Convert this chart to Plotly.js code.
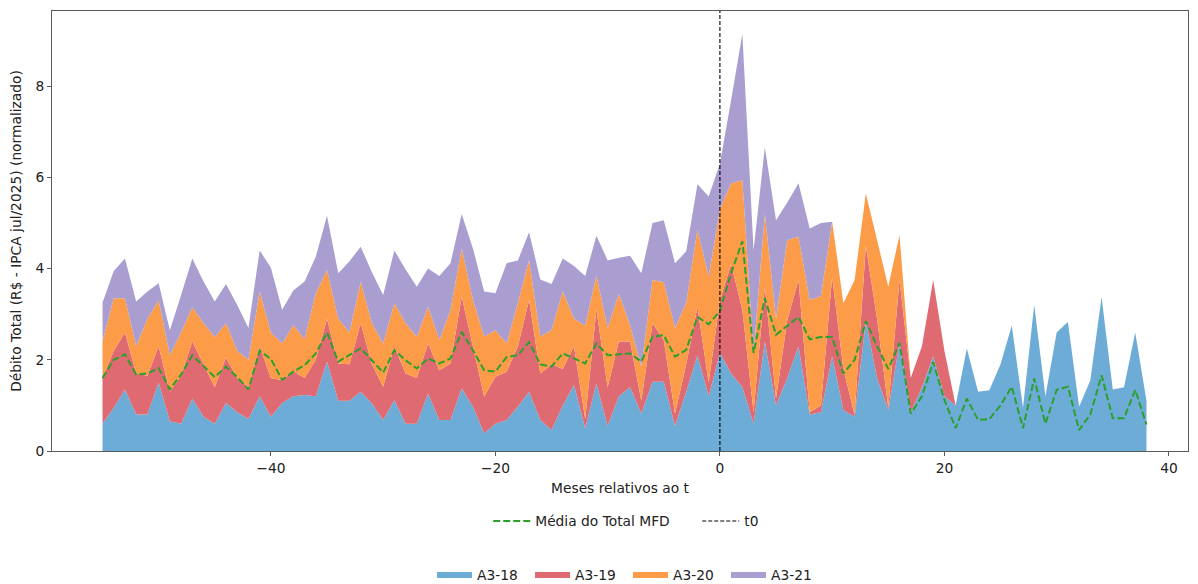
<!DOCTYPE html>
<html>
<head>
<meta charset="utf-8">
<script src="https://cdn.plot.ly/plotly-3.0.1.min.js"></script>
<style>
  html, body { margin: 0; padding: 0; background: #ffffff; }
  #chart { width: 1198px; height: 584px; }
</style>
</head>
<body>
<div id="chart"></div>
<script>
// Months relative to t0 covered by the panel
const firstMonth = -55;
const lastMonth = 38;
const t0 = 0;

// Normalised total debt per cohort (values start at month -55; cohorts end early)
const A3_18 = [0.60, 0.95, 1.35, 0.80, 0.80, 1.50, 0.65, 0.60, 1.15, 0.75,
  0.60, 1.05, 0.85, 0.70, 1.20, 0.75, 1.05, 1.20, 1.23, 1.20,
  1.96, 1.10, 1.10, 1.30, 1.04, 0.68, 1.12, 0.60, 0.60, 1.26,
  0.68, 0.68, 1.37, 0.97, 0.39, 0.60, 0.68, 0.97, 1.30, 0.68,
  0.46, 1.00, 1.45, 0.50, 1.48, 0.55, 1.20, 1.40, 0.82, 1.52,
  1.52, 0.55, 1.30, 2.10, 1.20, 2.15, 1.70, 1.40, 0.60, 2.40,
  1.00, 1.60, 2.30, 0.80, 0.85, 2.07, 0.90, 0.75, 2.85, 1.60,
  0.90, 2.37, 0.85, 1.40, 2.07, 1.20, 1.00, 2.25, 1.30, 1.33,
  1.90, 2.75, 0.95, 3.20, 1.20, 2.60, 2.83, 0.97, 1.55, 3.38,
  1.35, 1.40, 2.60, 1.10];

const A3_19 = [1.00, 1.25, 1.25, 0.90, 0.85, 0.80, 0.65, 1.05, 1.25, 1.15,
  0.80, 1.00, 0.75, 0.70, 1.10, 0.85, 0.50, 0.55, 0.37, 0.80,
  0.94, 0.82, 0.80, 1.50, 0.86, 0.73, 1.17, 1.10, 1.00, 1.10,
  1.09, 1.24, 2.02, 1.32, 0.80, 1.03, 1.06, 1.32, 2.01, 1.02,
  1.44, 0.80, 0.85, 0.20, 1.62, 0.85, 1.20, 1.00, 0.28, 1.28,
  0.91, 0.27, 0.60, 1.06, 0.30, 1.15, 2.40, 1.70, 0.25, 1.20,
  0.15, 1.27, 1.45, 0.05, 0.15, 1.75, 0.90, 0.05, 1.65, 1.30,
  0.05, 1.38, 0.75, 0.90, 1.68, 1.00];

const A3_20 = [0.80, 1.15, 0.75, 0.60, 1.25, 1.00, 0.80, 0.95, 0.75, 0.90,
  1.10, 0.75, 0.60, 0.60, 1.20, 1.00, 0.81, 1.01, 0.85, 1.46,
  1.07, 0.98, 0.70, 0.91, 0.90, 0.95, 0.95, 1.10, 0.90, 0.81,
  0.66, 1.17, 1.05, 1.02, 1.32, 1.02, 0.62, 0.95, 0.88, 0.81,
  0.75, 1.70, 0.60, 2.05, 0.75, 1.30, 1.05, 0.35, 0.75, 0.95,
  1.27, 1.88, 1.35, 1.69, 2.32, 2.00, 1.77, 2.84, 1.29, 1.60,
  1.75, 1.76, 0.95, 2.46, 2.40, 1.21, 1.44, 2.95, 1.15, 1.73,
  2.65, 0.99];

const A3_21 = [0.85, 0.60, 0.87, 0.98, 0.60, 0.38, 0.55, 0.82, 1.07, 0.92,
  0.78, 0.86, 1.00, 0.70, 0.90, 1.42, 0.74, 0.76, 1.27, 0.80,
  1.19, 1.00, 1.56, 0.77, 1.12, 1.06, 1.16, 1.18, 1.10, 0.83,
  1.41, 1.03, 0.76, 1.13, 0.99, 0.81, 1.76, 0.94, 0.61, 1.25,
  1.01, 0.72, 1.16, 1.09, 0.87, 1.48, 0.79, 1.53, 2.05, 1.25,
  1.36, 1.42, 1.13, 1.00, 1.76, 1.00, 1.83, 3.21, 2.26, 1.46,
  2.16, 0.82, 1.17, 1.57, 1.60];

// Mean of the MFD total, month by month
const mediaTotal = [1.60, 2.00, 2.12, 1.68, 1.70, 1.82, 1.35, 1.68, 2.10, 1.85,
  1.62, 1.85, 1.62, 1.35, 2.20, 2.02, 1.56, 1.74, 1.88, 2.14,
  2.60, 1.96, 2.10, 2.25, 1.99, 1.72, 2.21, 1.99, 1.81, 2.03,
  1.92, 2.03, 2.61, 2.21, 1.77, 1.74, 2.06, 2.10, 2.39, 1.90,
  1.85, 2.14, 2.03, 1.92, 2.36, 2.10, 2.12, 2.14, 1.96, 2.51,
  2.54, 2.07, 2.22, 2.94, 2.78, 3.07, 3.90, 4.60, 2.15, 3.35,
  2.55, 2.75, 2.94, 2.45, 2.50, 2.50, 1.70, 2.00, 2.85, 2.30,
  1.80, 2.37, 0.82, 1.20, 1.95, 1.12, 0.50, 1.15, 0.68, 0.70,
  1.00, 1.41, 0.50, 1.59, 0.60, 1.34, 1.41, 0.46, 0.80, 1.66,
  0.72, 0.72, 1.34, 0.58];

const cohortNames = ['A3-18', 'A3-19', 'A3-20', 'A3-21'];
const cohortValues = [A3_18, A3_19, A3_20, A3_21];
const cohortColors = ['rgb(108,172,214)', 'rgb(224,106,114)', 'rgb(252,156,72)', 'rgb(170,158,208)'];

const months = [];
for (let m = firstMonth; m <= lastMonth; m++) months.push(m);

// A cohort contributes nothing to the stack after its last month
function fullSpan(vals) {
  return months.map((m, i) => (i < vals.length ? vals[i] : 0));
}

const yRange = [0, 9.65];
const xRange = [-59.5, 41.7];

const traces = cohortNames.map((name, k) => ({
  type: 'scatter',
  x: months,
  y: fullSpan(cohortValues[k]),
  name: name,
  stackgroup: 'cohorts',
  mode: 'none',
  fillcolor: cohortColors[k],
  legend: 'legend2',
  hoverinfo: 'x+y+name'
}));

traces.push({
  type: 'scatter',
  x: months,
  y: mediaTotal,
  name: 'Média do Total MFD',
  mode: 'lines',
  line: { color: '#2ca02c', width: 2, dash: '7px,3px' },
  legend: 'legend'
});

traces.push({
  type: 'scatter',
  x: [t0, t0],
  y: yRange,
  name: 't0',
  mode: 'lines',
  line: { color: '#000000', width: 1.1, dash: '4px,2px' },
  legend: 'legend'
});

const textFont = { family: 'DejaVu Sans', size: 13.8, color: '#222222' };

const axisStyle = {
  showline: true,
  mirror: true,
  linecolor: '#5a5a5a',
  linewidth: 1,
  ticks: 'outside',
  ticklen: 4,
  tickwidth: 1,
  tickcolor: '#5a5a5a',
  showgrid: false,
  zeroline: false,
  automargin: false,
  tickfont: textFont
};

const layout = {
  width: 1198,
  height: 584,
  paper_bgcolor: '#ffffff',
  plot_bgcolor: '#ffffff',
  margin: { l: 52, r: 10, t: 11, b: 133, autoexpand: false },
  font: textFont,
  xaxis: Object.assign({}, axisStyle, {
    range: xRange,
    tickmode: 'linear',
    tick0: -40,
    dtick: 20,
    title: { text: 'Meses relativos ao t', standoff: 8, font: textFont }
  }),
  yaxis: Object.assign({}, axisStyle, {
    range: yRange,
    tickmode: 'linear',
    tick0: 0,
    dtick: 2,
    title: { text: 'Débito Total (R$ - IPCA jul/2025) (normalizado)', standoff: 10, font: textFont }
  }),
  showlegend: true,
  legend: {
    orientation: 'h',
    traceorder: 'normal',
    x: 0.384,
    xanchor: 'left',
    y: -0.159,
    yanchor: 'middle',
    bgcolor: 'rgba(255,255,255,0)',
    font: textFont,
    itemwidth: 37,
    entrywidth: 157,
    entrywidthmode: 'pixels'
  },
  legend2: {
    orientation: 'h',
    traceorder: 'normal',
    x: 0.3345,
    xanchor: 'left',
    y: -0.282,
    yanchor: 'middle',
    bgcolor: 'rgba(255,255,255,0)',
    font: textFont,
    itemwidth: 35,
    entrywidth: 48,
    entrywidthmode: 'pixels'
  }
};

Plotly.newPlot('chart', traces, layout, { displayModeBar: false, staticPlot: true });
</script>
</body>
</html>
